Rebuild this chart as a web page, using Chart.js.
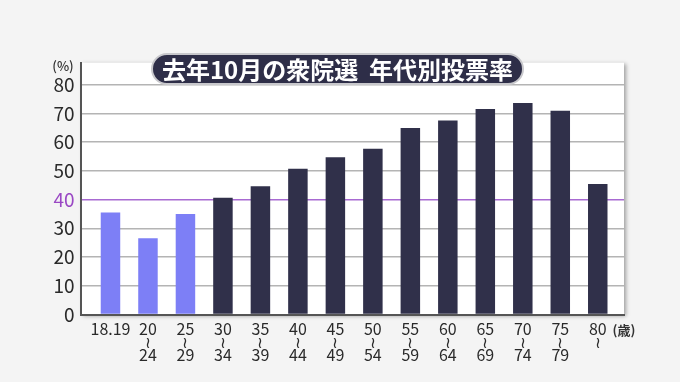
<!DOCTYPE html>
<html><head><meta charset="utf-8">
<script src="https://cdn.jsdelivr.net/npm/chart.js@4"></script>
<style>
html,body{margin:0;padding:0;background:#f4f4f4;}
#wrap{width:680px;height:382px;position:relative;}
</style></head>
<body><div id="wrap"><canvas id="c" width="680" height="382"></canvas></div>
<script>
const titleText = "去年10月の衆院選  年代別投票率";
const categories = [["18.19"],["20","≀","24"],["25","≀","29"],["30","≀","34"],["35","≀","39"],["40","≀","44"],["45","≀","49"],["50","≀","54"],["55","≀","59"],["60","≀","64"],["65","≀","69"],["70","≀","74"],["75","≀","79"],["80","≀"]];
const turnout = [35.5, 26.5, 35.0, 40.6, 44.6, 50.7, 54.7, 57.7, 64.9, 67.5, 71.5, 73.6, 70.9, 45.4];
const youthCount = 3;
const yTicks = [0,10,20,30,40,50,60,70,80];
const highlightTick = 40;
const yUnit = "(%)";
const xUnit = "(歳)";

const LIGHT = "#7d7ff6", DARK = "#30304a", PURPLE = "#a86ad2";
const FONT = "'Noto Sans CJK JP','Noto Sans',sans-serif";

const bgPlugin = {
  id:'bg',
  beforeDraw(chart){
    const {ctx, chartArea:a} = chart;
    ctx.save();
    ctx.shadowColor='rgba(0,0,0,0.35)';
    ctx.shadowBlur=4; ctx.shadowOffsetX=2; ctx.shadowOffsetY=1;
    ctx.fillStyle='#ffffff';
    ctx.fillRect(a.left, a.top, a.right-a.left, a.bottom-a.top);
    ctx.restore();
  },
  afterDraw(chart){
    const {ctx} = chart;
    ctx.save();
    ctx.fillStyle='#333';
    ctx.font = "500 13px "+FONT;
    ctx.textAlign='center'; ctx.textBaseline='middle';
    ctx.fillText(yUnit, 63, 66);
    ctx.font = "700 13px "+FONT;
    ctx.fillText(xUnit, 624, 330);
    const x0=152, y0=54, w=371, h=30, r=15;
    ctx.beginPath();
    ctx.roundRect(x0, y0, w, h, r);
    ctx.fillStyle='#2e2e48';
    ctx.fill();
    ctx.lineWidth=2; ctx.strokeStyle='#c8c8cc'; ctx.stroke();
    ctx.fillStyle='#ffffff';
    ctx.font = "700 24px "+FONT;
    ctx.fillText(titleText, x0+w/2, y0+h/2+1);
    ctx.restore();
  }
};

new Chart(document.getElementById('c'), {
  type:'bar',
  data:{
    datasets:[{
      data: turnout.map((v,i)=>({x:i,y:v})),
      backgroundColor: turnout.map((v,i)=> i<youthCount ? LIGHT : DARK),
      barPercentage:0.52, categoryPercentage:1.0
    }]
  },
  options:{
    responsive:false, animation:false,
    layout:{padding:{left:0,right:56,top:62.7,bottom:0}},
    plugins:{legend:{display:false}, tooltip:{enabled:false}},
    scales:{
      x:{
        type:'linear', min:-0.8, max:13.7, offset:false,
        afterBuildTicks(s){ s.ticks = categories.map((_,i)=>({value:i})); },
        afterFit(s){ s.height = 67.5; },
        grid:{display:false, drawTicks:false, offset:false},
        border:{display:true, color:'#555', width:2},
        ticks:{
          autoSkip:false, maxRotation:0, padding:8,
          color:'#2a2a2a',
          font:{family:FONT, size:16, lineHeight:0.8},
          callback:(v)=> categories[v] || ''
        }
      },
      y:{
        min:0, max:87.6,
        afterBuildTicks(s){ s.ticks = yTicks.map(v=>({value:v})); },
        afterFit(s){ s.width = 80.5; },
        grid:{
          drawTicks:false,
          color:(c)=> c.tick && c.tick.value===highlightTick ? PURPLE : '#b4b4b4',
          lineWidth:1.5
        },
        border:{display:true, color:'#555', width:2},
        ticks:{
          padding:6,
          color:(c)=> c.tick && c.tick.value===highlightTick ? '#9a48c4' : '#2a2a2a',
          font:{family:FONT, size:19}
        }
      }
    }
  },
  plugins:[bgPlugin]
});
</script></body></html>
